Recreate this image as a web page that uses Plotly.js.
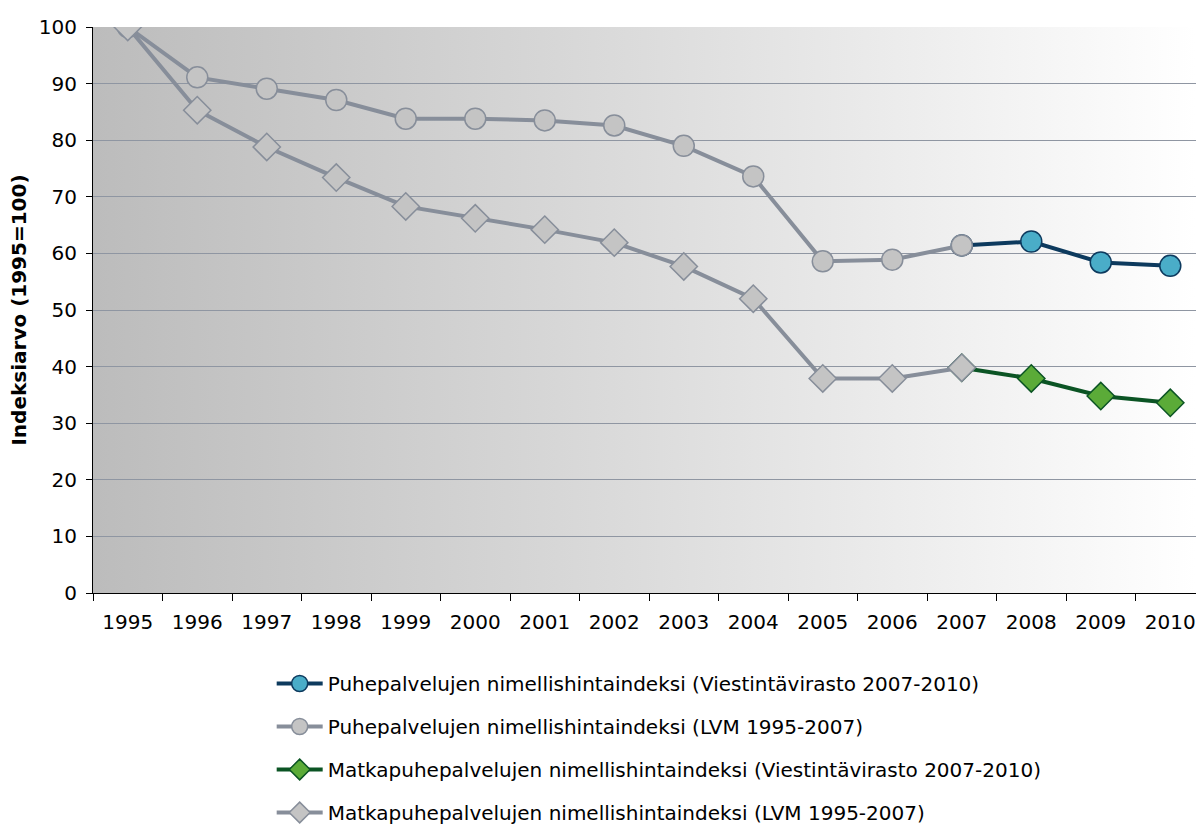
<!DOCTYPE html>
<html>
<head>
<meta charset="utf-8">
<script src="https://cdn.plot.ly/plotly-3.0.1.min.js"></script>
<style>
  html, body { margin: 0; padding: 0; background: #fff; }
</style>
</head>
<body>
<div id="chart" style="width:1196px;height:830px;"></div>
<script>
// years on the x axis
let years = ['1995','1996','1997','1998','1999','2000','2001','2002',
             '2003','2004','2005','2006','2007','2008','2009','2010'];

// index values (1995=100)
let yearsLvm = years.slice(0, 13);
let yearsViesti = years.slice(12);

let puheLvm = [100, 91.1, 89.1, 87.1, 83.8, 83.8, 83.5, 82.6, 79, 73.6, 58.6, 58.9, 61.4];
let puheViesti = [61.4, 62.1, 58.4, 57.8];
let matkaLvm = [100, 85.3, 78.8, 73.4, 68.3, 66.2, 64.2, 61.9, 57.7, 52, 37.9, 37.9, 39.8];
let matkaViesti = [39.8, 37.9, 34.8, 33.6];

let names = [
  'Puhepalvelujen nimellishintaindeksi (Viestintävirasto 2007-2010)',
  'Puhepalvelujen nimellishintaindeksi (LVM 1995-2007)',
  'Matkapuhepalvelujen nimellishintaindeksi (Viestintävirasto 2007-2010)',
  'Matkapuhepalvelujen nimellishintaindeksi (LVM 1995-2007)'
];

let grayLine = '#878e9a';
let grayFill = '#c4c4c4';

let trace1 = {
  x: yearsViesti, y: puheViesti, name: names[0],
  type: 'scatter', mode: 'lines+markers',
  legendgroup: 'a', legendrank: 1,
  line: {color: '#0d3a5e', width: 4},
  marker: {symbol: 'circle', size: 21, color: '#4aadc8', line: {color: '#0d3a5e', width: 1.5}}
};
let trace3 = {
  x: yearsViesti, y: matkaViesti, name: names[2],
  type: 'scatter', mode: 'lines+markers',
  legendgroup: 'c', legendrank: 3,
  line: {color: '#0b5424', width: 4},
  marker: {symbol: 'diamond', size: 21, color: '#5bab38', line: {color: '#0b5424', width: 1.5}}
};
let trace2 = {
  x: yearsLvm, y: puheLvm, name: names[1],
  type: 'scatter', mode: 'lines+markers',
  legendgroup: 'b', legendrank: 2,
  line: {color: grayLine, width: 4},
  marker: {symbol: 'circle', size: 21, color: grayFill, line: {color: grayLine, width: 1.5}}
};
let trace4 = {
  x: yearsLvm, y: matkaLvm, name: names[3],
  type: 'scatter', mode: 'lines+markers',
  legendgroup: 'd', legendrank: 4,
  line: {color: grayLine, width: 4},
  marker: {symbol: 'diamond', size: 21, color: grayFill, line: {color: grayLine, width: 1.5}}
};

// horizontal grey gradient behind the plot area
let bgSvg = '<svg xmlns="http://www.w3.org/2000/svg" width="400" height="100" preserveAspectRatio="none">' +
  '<defs><linearGradient id="g" x1="0" y1="0" x2="1" y2="0">' +
  '<stop offset="0" stop-color="#bcbcbc"/><stop offset="0.5" stop-color="#dcdcdc"/>' +
  '<stop offset="1" stop-color="#ffffff"/></linearGradient></defs>' +
  '<rect width="400" height="100" fill="url(#g)"/></svg>';

let data = [trace1, trace3, trace2, trace4];

let layout = {
  width: 1196,
  height: 830,
  margin: {l: 93, r: 0, t: 27, b: 237},
  paper_bgcolor: '#ffffff',
  plot_bgcolor: 'rgba(0,0,0,0)',
  font: {family: 'DejaVu Sans, Verdana, sans-serif', size: 20, color: '#000'},
  showlegend: true,
  legend: {
    x: 0.162, xanchor: 'left',
    yref: 'container',
    y: 0.2, yanchor: 'top',
    traceorder: 'grouped',
    tracegroupgap: 14,
    itemwidth: 46,
    font: {size: 20}
  },
  images: [{
    source: 'data:image/svg+xml;charset=utf-8,' + encodeURIComponent(bgSvg),
    xref: 'paper', yref: 'paper', x: 0, y: 1, sizex: 1, sizey: 1,
    sizing: 'stretch', layer: 'below'
  }],
  xaxis: {
    type: 'category',
    categoryorder: 'array',
    categoryarray: years,
    range: [-0.5, 15.37],
    automargin: false,
    tickson: 'boundaries',
    ticks: 'outside', ticklen: 7, tickcolor: '#000',
    showline: true, linecolor: '#000', linewidth: 1,
    showgrid: false, zeroline: false,
    ticklabelstandoff: 11,
    tickfont: {size: 20}
  },
  yaxis: {
    range: [0, 100],
    dtick: 10,
    automargin: false,
    ticks: 'outside', ticklen: 6, tickcolor: '#000',
    showline: true, linecolor: '#000', linewidth: 1,
    gridcolor: '#8f96a2', gridwidth: 1,
    zeroline: false,
    ticklabelstandoff: 5,
    tickfont: {size: 20},
    title: {text: '<b>Indeksiarvo (1995=100)</b>', font: {size: 20}, standoff: 6}
  }
};

Plotly.newPlot('chart', data, layout, {displayModeBar: false});
</script>
</body>
</html>
